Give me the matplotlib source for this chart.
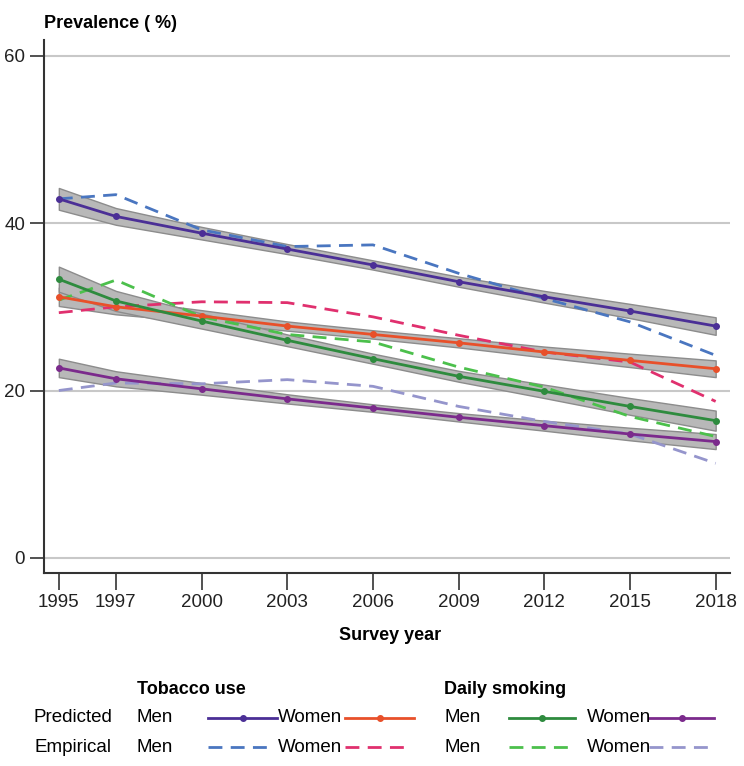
import matplotlib
matplotlib.use("Agg")
import matplotlib.pyplot as plt
from matplotlib.lines import Line2D
import numpy as np

plt.rcParams['font.family'] = ['Liberation Sans Narrow', 'Liberation Sans', 'DejaVu Sans']

years = [1995, 1997, 2000, 2003, 2006, 2009, 2012, 2015, 2018]

# predicted (model) prevalence
pred_tob_men = [42.9, 40.8, 38.8, 36.9, 35.0, 33.0, 31.2, 29.5, 27.7]
pred_tob_women = [31.2, 30.0, 28.9, 27.7, 26.7, 25.7, 24.6, 23.6, 22.6]
pred_daily_men = [33.3, 30.7, 28.3, 26.0, 23.8, 21.7, 19.9, 18.1, 16.4]
pred_daily_women = [22.7, 21.4, 20.2, 19.0, 17.9, 16.8, 15.8, 14.8, 13.9]

# half width of the confidence bands
ci_tob_men = [1.3, 1.0, 0.75, 0.6, 0.55, 0.6, 0.7, 0.85, 1.05]
ci_tob_women = [1.1, 0.9, 0.7, 0.55, 0.5, 0.55, 0.65, 0.8, 1.0]
ci_daily_men = [1.5, 1.2, 0.9, 0.7, 0.6, 0.65, 0.8, 1.0, 1.2]
ci_daily_women = [1.1, 0.9, 0.7, 0.55, 0.45, 0.5, 0.6, 0.75, 0.9]

# empirical prevalence
emp_tob_men = [42.9, 43.4, 39.2, 37.2, 37.4, 34.0, 31.0, 28.2, 24.2]
emp_tob_women = [29.3, 30.0, 30.6, 30.5, 28.8, 26.6, 24.6, 23.4, 18.7]
emp_daily_men = [30.8, 33.2, 28.8, 26.7, 25.8, 22.8, 20.4, 16.9, 14.5]
emp_daily_women = [20.0, 20.9, 20.8, 21.3, 20.5, 18.1, 16.3, 14.8, 11.3]

c_tob_men = '#4b2f96'
c_tob_women = '#e8502a'
c_daily_men = '#2e8b3e'
c_daily_women = '#7b2a8c'
e_tob_men = '#4a76c0'
e_tob_women = '#e0306e'
e_daily_men = '#4cc04c'
e_daily_women = '#9595cc'

fig = plt.figure(figsize=(7.44, 7.66), dpi=100)
ax = fig.add_axes([0.0591, 0.252, 0.922, 0.696])

x = np.array(years)
for v, c in [(pred_tob_men, ci_tob_men), (pred_tob_women, ci_tob_women),
             (pred_daily_men, ci_daily_men), (pred_daily_women, ci_daily_women)]:
    v = np.array(v); c = np.array(c)
    ax.fill_between(x, v - c, v + c, facecolor='#b8b8b8', edgecolor='#8c8c8c',
                    linewidth=1.0, zorder=2)

dash = (0, (5, 3))
for v, col in [(emp_tob_men, e_tob_men), (emp_tob_women, e_tob_women),
               (emp_daily_men, e_daily_men), (emp_daily_women, e_daily_women)]:
    ax.plot(x, v, color=col, linestyle=dash, linewidth=2, zorder=3)

for v, col in [(pred_tob_men, c_tob_men), (pred_tob_women, c_tob_women),
               (pred_daily_men, c_daily_men), (pred_daily_women, c_daily_women)]:
    ax.plot(x, v, color=col, linewidth=2, marker='o', markersize=4, zorder=4)

ax.set_xlim(1994.48, 2018.5)
ax.set_ylim(-1.8, 61.9)
ax.set_yticks([0, 20, 40, 60])
ax.set_xticks(years)
ax.yaxis.grid(True, color='#c8c8c8', linewidth=1.5)
ax.set_axisbelow(True)
for s in ['top', 'right']:
    ax.spines[s].set_visible(False)
for s in ['left', 'bottom']:
    ax.spines[s].set_color('#333333')
    ax.spines[s].set_linewidth(1.5)
ax.tick_params(axis='both', direction='out', length=10, width=1.2, color='#333333',
               labelsize=13.5, labelcolor='#222222')
ax.tick_params(axis='x', length=12, pad=3)

bold = ['Liberation Sans', 'DejaVu Sans']
fig.text(0.0591, 0.958, 'Prevalence ( %)', fontsize=13, fontweight='bold',
         family=bold, va='bottom', ha='left')
fig.text(0.524, 1 - 636 / 766, 'Survey year', fontsize=13, fontweight='bold',
         family=bold, ha='center', va='center')

# legend drawn by hand, positions in pixels
W, H = 744.0, 766.0
def fx(p):
    return p / W
def fy(p):
    return 1 - p / H

fig.text(fx(137), fy(690), 'Tobacco use', fontsize=13, fontweight='bold',
         family=bold, va='center')
fig.text(fx(444), fy(690), 'Daily smoking', fontsize=13, fontweight='bold',
         family=bold, va='center')

rows = [('Predicted', 718, [c_tob_men, c_tob_women, c_daily_men, c_daily_women], True),
        ('Empirical', 747, [e_tob_men, e_tob_women, e_daily_men, e_daily_women], False)]
texts = [(137, 'Men'), (278, 'Women'), (444, 'Men'), (587, 'Women')]
segs = [(208, 277), (345, 414), (509, 575), (649, 714)]
for label, yy, cols, pred in rows:
    fig.text(fx(112), fy(yy), label, fontsize=13.5, ha='right', va='center')
    for tx, t in texts:
        fig.text(fx(tx), fy(yy), t, fontsize=13.5, va='center')
    for (a, b), col in zip(segs, cols):
        if pred:
            fig.add_artist(Line2D([fx(a), fx(b)], [fy(yy), fy(yy)], color=col, linewidth=2))
            fig.add_artist(Line2D([fx((a + b) / 2)], [fy(yy)], color=col, marker='o',
                                  markersize=4))
        else:
            fig.add_artist(Line2D([fx(a), fx(b - 4)], [fy(yy), fy(yy)], color=col,
                                  linewidth=2, linestyle=dash))

fig.savefig('out.png', dpi=100)
